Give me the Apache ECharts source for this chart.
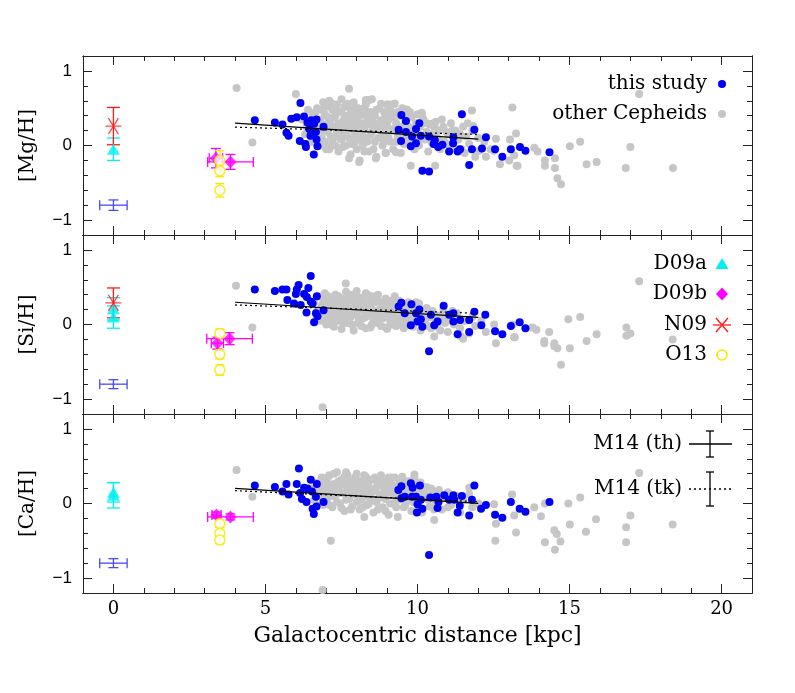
<!DOCTYPE html>
<html>
<head>
<meta charset="utf-8">
<script src="https://cdn.jsdelivr.net/npm/echarts@6.0.0/dist/echarts.min.js"></script>
<style>
  html, body { margin: 0; padding: 0; background: #fff; }
  #chart { width: 795px; height: 693px; }
</style>
</head>
<body>
<div id="chart"></div>
<script>
// tick values
var xMajor = [0, 5, 10, 15, 20]
var xMinor = [1, 2, 3, 4, 6, 7, 8, 9, 11, 12, 13, 14, 16, 17, 18, 19]
var yMajor = [-1, 0, 1]
var yMinor = [-0.8, -0.6, -0.4, -0.2, 0.2, 0.4, 0.6, 0.8]
var panelNames = ['[Mg/H]', '[Si/H]', '[Ca/H]']

// this study, [Mg/H]
var mgThis = [
  [4.65, 0.34], [5.31, 0.31], [5.56, 0.28], [5.69, 0.17], [5.76, 0.13], [5.85, 0.36], [6.03, 0.38],
  [6.15, 0.57], [6.27, 0.39], [6.38, 0.31], [6.51, 0.34], [6.68, 0.35], [6.44, 0.22], [6.66, 0.18],
  [6.13, 0.06], [6.31, 0.02], [6.48, 0.13], [6.68, 0.08], [6.71, -0.01], [6.59, -0.12], [6.33, -0.02],
  [6.91, 0.25], [6.53, 0.18], [6.6, 0.29],
  [9.47, 0.41], [9.62, 0.33], [10.06, 0.3], [9.95, 0.22], [9.38, 0.21], [9.62, 0.18], [9.82, 0.12],
  [10.11, 0.13], [9.46, 0.06], [9.78, -0.01], [9.95, 0.03], [10.38, 0.12], [10.57, 0.07], [10.68, -0.02],
  [10.82, 0.01], [11.04, -0.08], [11.18, 0.11], [11.17, 0.03], [11.4, -0.05], [11.32, -0.08], [11.46, 0.42],
  [11.87, 0.21], [12.25, 0.11], [11.79, -0.05], [12.12, -0.04], [12.55, -0.05], [12.79, -0.15], [13.07, -0.05],
  [13.37, -0.02], [13.55, -0.07], [11.7, -0.26], [10.16, -0.34], [10.38, -0.35], [10.53, 0.02], [14.34, -0.09]
]
// other Cepheids, [Mg/H]
var mgOther = [
  [6.2, 0.35], [6.3, 0.15], [6.4, 0.48], [6.5, 0.05], [6.6, 0.28], [6.55, 0.41], [6.35, 0.25],
  [6.7, 0.5], [6.75, 0.22], [6.8, 0.35], [6.85, 0.1], [6.9, 0.58], [6.95, 0.42], [7.0, 0.28], [6.8, 0.0], [7.0, -0.05],
  [7.05, 0.18], [7.1, 0.6], [7.15, 0.35], [7.2, 0.48], [7.2, 0.05], [7.25, 0.25], [7.3, 0.12], [7.3, 0.4],
  [7.35, 0.55], [7.4, 0.3], [7.4, -0.08], [7.45, 0.2], [7.5, 0.45], [7.5, 0.08], [7.5, 0.62],
  [7.55, 0.33], [7.6, 0.18], [7.6, 0.52], [7.65, 0.0], [7.7, 0.4], [7.7, 0.26], [7.75, 0.1], [7.8, 0.48],
  [7.8, -0.12], [7.85, 0.32], [7.9, 0.2], [7.9, 0.58], [7.95, 0.05], [8.0, 0.38], [8.0, 0.26],
  [8.05, 0.5], [8.1, 0.15], [8.1, -0.2], [8.15, 0.3], [8.2, 0.42], [8.2, 0.0], [8.25, 0.22], [8.3, 0.55],
  [8.3, 0.1], [8.35, 0.35], [8.4, 0.28], [8.4, -0.08], [8.45, 0.45], [8.5, 0.18], [8.5, 0.62],
  [8.55, 0.3], [8.6, 0.05], [8.6, 0.4], [8.65, -0.15], [8.7, 0.22], [8.75, 0.5], [8.8, 0.12], [8.8, 0.34],
  [8.85, 0.0], [8.9, 0.45], [8.95, 0.25], [9.0, 0.15], [9.0, 0.55], [8.95, -0.1],
  [9.05, 0.35], [9.1, 0.05], [9.15, 0.45], [9.2, 0.22], [9.2, -0.05], [9.25, 0.56], [9.3, 0.3], [9.35, 0.12],
  [9.4, 0.4], [9.45, -0.1], [9.5, 0.25], [9.5, 0.5],
  [9.55, 0.02], [9.6, 0.32], [9.65, 0.48], [9.7, 0.15], [9.75, 0.08], [9.8, 0.38], [9.85, 0.22], [9.9, -0.05],
  [9.95, 0.3], [10.0, 0.12], [10.0, 0.42],
  [10.05, 0.0], [10.1, 0.25], [10.2, 0.35], [10.25, 0.08], [10.3, 0.18], [10.35, -0.08], [10.4, 0.28],
  [10.45, 0.05], [10.5, 0.15], [10.6, 0.32], [10.65, 0.1], [10.7, 0.2], [10.75, -0.05], [10.85, 0.25],
  [10.9, 0.05], [11.0, 0.15], [11.1, 0.3], [11.2, -0.02], [11.25, 0.2], [11.35, 0.08], [11.5, 0.25],
  [11.55, -0.1], [11.6, 0.12], [11.7, 0.02], [11.8, 0.2], [11.9, -0.15], [12.0, 0.1],
  [6.6, 0.12], [6.65, 0.45], [6.7, 0.02], [6.75, 0.32], [6.85, 0.48], [6.9, 0.2], [6.95, 0.05], [7.0, 0.52],
  [7.05, 0.38], [7.1, 0.25], [7.1, -0.02], [7.15, 0.12], [7.2, 0.56], [7.25, 0.38], [7.3, 0.0], [7.35, 0.2],
  [7.4, 0.46], [7.45, 0.1], [7.5, 0.28], [7.55, -0.02], [7.6, 0.4], [7.65, 0.14], [7.7, 0.56], [7.75, 0.34],
  [7.8, 0.22], [7.85, 0.02], [7.9, 0.42], [7.95, 0.15], [8.0, 0.5], [8.0, -0.05], [8.05, 0.3], [8.1, 0.4],
  [8.15, 0.08], [8.2, 0.2], [8.25, 0.5], [8.3, 0.3], [8.35, 0.05], [8.4, 0.42], [8.45, 0.14], [8.5, 0.35],
  [8.55, -0.05], [8.6, 0.22], [8.65, 0.48], [8.7, 0.1], [8.75, 0.3], [8.8, 0.56], [8.85, 0.2], [8.9, 0.05],
  [8.95, 0.4], [9.0, 0.3], [9.05, 0.1], [9.1, 0.5], [9.15, 0.2], [9.2, 0.38], [9.3, 0.05], [9.35, 0.45],
  [9.4, 0.18], [9.5, 0.05], [9.55, 0.38], [9.6, 0.12], [9.7, 0.25], [9.75, 0.45], [9.8, 0.02], [9.9, 0.15],
  [10.0, 0.3], [10.1, 0.1], [10.15, 0.4], [10.3, 0.3], [10.4, 0.15], [10.5, 0.02], [10.55, 0.25], [10.7, 0.08],
  [10.8, 0.35], [10.95, 0.18], [11.05, 0.0], [11.15, 0.2], [11.4, 0.15], [11.45, -0.05], [11.65, 0.3],
  [12.2, 0.05], [12.4, -0.05],
  [4.05, 0.77], [4.57, 0.04], [6.0, 0.69], [7.75, 0.76], [8.3, 0.61], [8.41, 0.61], [9.05, 0.55], [9.23, 0.56],
  [10.14, 0.44], [10.49, 0.29], [11.79, 0.47], [13.12, 0.51], [9.78, -0.27], [10.58, -0.27], [13.24, 0.16],
  [12.58, 0.09], [13.02, -0.2], [13.26, -0.27], [12.25, -0.15], [12.03, -0.07], [7.75, -0.17], [8.08, -0.22],
  [7.1, -0.05], [8.25, -0.08], [8.63, -0.17], [8.96, -0.1], [9.29, -0.09], [17.29, 0.69], [15.01, -0.01],
  [15.35, 0.05], [15.56, -0.25], [15.89, -0.22], [16.85, -0.3], [17.0, -0.02], [18.4, -0.3], [14.72, -0.52],
  [14.6, -0.44], [14.52, -0.3], [14.52, -0.17], [14.19, -0.2], [14.19, -0.27], [13.95, -0.08], [13.84, -0.03],
  [13.29, -0.27], [13.18, -0.13], [13.04, 0.08], [12.71, -0.25], [12.52, -0.07], [11.83, 0.26], [9.65, 0.48]
]

// this study, [Si/H]
var siThis = [
  [4.65, 0.47], [5.31, 0.45], [5.56, 0.47], [5.69, 0.47], [6.03, 0.47], [6.09, 0.53], [6.49, 0.65],
  [6.41, 0.49], [6.0, 0.41], [6.27, 0.41], [6.36, 0.37], [6.69, 0.38], [5.72, 0.33], [5.94, 0.28],
  [6.16, 0.26], [6.55, 0.28], [6.91, 0.19], [6.35, 0.16], [6.66, 0.15], [6.71, 0.11], [6.6, 0.03], [6.49, 0.31],
  [9.47, 0.29], [9.38, 0.24], [9.8, 0.27], [10.06, 0.2], [9.58, 0.15], [9.95, 0.15], [10.11, 0.07],
  [10.0, 0.04], [9.78, -0.01], [10.16, -0.03], [10.44, 0.13], [10.66, 0.04], [10.55, -0.01], [10.86, 0.25],
  [11.04, 0.13], [11.18, 0.15], [11.18, 0.04], [11.4, 0.06], [11.87, 0.17], [11.7, 0.06], [12.23, 0.13],
  [12.1, -0.01], [11.32, -0.13], [11.7, -0.1], [12.55, -0.09], [12.79, -0.13], [13.07, -0.02], [13.36, 0.03],
  [13.55, -0.05], [10.38, -0.36]
]
// other Cepheids, [Si/H]
var siOther = [
  [6.6, 0.3], [6.7, 0.18], [6.75, 0.38], [6.8, 0.05], [6.85, 0.25], [6.9, 0.12], [6.95, 0.42], [7.0, 0.3],
  [7.0, 0.0], [7.05, 0.2], [7.1, 0.08], [7.15, 0.35], [7.2, 0.22], [7.25, -0.03], [7.3, 0.4], [7.3, 0.14],
  [7.35, 0.28], [7.4, 0.05], [7.45, 0.2], [7.5, 0.35], [7.5, -0.06], [7.55, 0.12], [7.6, 0.26], [7.65, 0.44],
  [7.7, 0.02], [7.7, 0.18], [7.75, 0.32], [7.8, 0.1], [7.85, 0.4], [7.9, 0.22], [7.9, -0.08], [7.95, 0.3],
  [8.0, 0.14], [8.0, 0.45], [8.05, 0.02], [8.1, 0.26], [8.15, 0.36], [8.2, 0.08], [8.25, 0.18], [8.3, 0.42],
  [8.3, -0.05], [8.35, 0.3], [8.4, 0.12], [8.45, 0.22], [8.5, 0.38], [8.5, 0.0], [8.55, 0.15], [8.6, 0.3],
  [8.65, 0.06], [8.7, 0.4], [8.75, 0.2], [8.8, -0.02], [8.85, 0.28], [8.9, 0.1], [8.95, 0.35], [9.0, 0.18],
  [9.0, -0.06], [9.05, 0.25], [9.1, 0.05], [9.15, 0.32], [9.2, 0.14], [9.25, 0.38], [9.3, -0.02], [9.35, 0.22],
  [9.4, 0.08], [9.45, 0.3], [9.5, 0.15], [9.55, -0.05], [9.6, 0.2], [9.65, 0.05], [9.7, 0.3], [9.8, 0.12],
  [9.85, -0.03], [9.9, 0.22], [10.0, 0.08], [10.05, 0.28], [10.1, -0.08], [10.2, 0.15], [10.25, 0.02],
  [10.3, 0.22], [10.4, 0.1], [10.45, -0.05], [10.5, 0.18], [10.6, 0.05], [10.7, 0.12], [10.75, -0.08],
  [10.85, 0.2], [10.9, 0.02], [11.0, -0.1], [11.05, 0.1], [11.2, 0.0], [11.3, 0.15], [11.4, -0.05],
  [11.6, 0.05], [11.7, -0.12], [11.8, 0.1], [11.9, -0.02], [12.1, 0.05],
  [6.8, 0.2], [6.9, 0.32], [6.95, 0.05], [7.0, 0.15], [7.05, 0.38], [7.1, 0.25], [7.15, 0.0], [7.2, 0.12],
  [7.25, 0.32], [7.3, 0.05], [7.35, 0.18], [7.4, 0.38], [7.45, 0.1], [7.5, 0.25], [7.55, 0.02], [7.6, 0.16],
  [7.65, 0.34], [7.7, 0.1], [7.75, 0.22], [7.8, 0.38], [7.85, 0.0], [7.9, 0.14], [7.95, 0.4], [8.0, 0.25],
  [8.05, 0.1], [8.1, 0.34], [8.15, -0.02], [8.2, 0.2], [8.25, 0.3], [8.3, 0.1], [8.35, 0.4], [8.4, 0.22],
  [8.45, -0.04], [8.5, 0.28], [8.55, 0.08], [8.6, 0.18], [8.65, 0.36], [8.7, 0.02], [8.75, 0.14], [8.8, 0.3],
  [8.85, 0.08], [8.9, 0.22], [8.95, -0.04], [9.0, 0.32], [9.05, 0.12], [9.1, 0.22], [9.15, 0.0], [9.2, 0.28],
  [9.25, 0.08], [9.3, 0.18], [9.4, 0.32], [9.45, 0.0], [9.5, 0.24], [9.6, 0.1], [9.65, 0.28], [9.75, 0.02],
  [9.8, 0.2], [9.9, 0.08], [9.95, 0.3], [10.05, 0.15], [10.15, 0.05], [10.3, 0.1], [10.35, -0.02], [10.55, 0.1],
  [10.65, -0.03], [10.8, 0.1], [11.0, 0.05], [11.15, 0.18], [11.5, 0.05],
  [4.03, 0.52], [4.57, -0.04], [7.64, 0.55], [10.55, -0.16], [11.5, -0.19], [12.58, -0.25], [12.52, 0.0],
  [13.18, -0.17], [13.13, 0.0], [12.25, -0.1], [17.29, 0.58], [14.96, 0.07], [15.35, 0.1], [16.87, -0.04],
  [17.0, -0.12], [16.87, -0.15], [15.89, -0.13], [15.56, -0.22], [15.01, -0.32], [14.72, -0.54], [14.6, -0.32],
  [14.5, -0.25], [14.5, -0.29], [14.17, -0.25], [14.17, -0.22], [14.33, -0.1], [13.91, -0.07], [13.78, -0.04],
  [13.2, -0.17], [18.39, -0.2], [11.43, -0.16], [6.88, -1.11]
]

// this study, [Ca/H]
var caThis = [
  [4.65, 0.24], [5.31, 0.22], [5.56, 0.16], [5.69, 0.26], [5.76, 0.12], [6.03, 0.26], [6.1, 0.47],
  [6.49, 0.32], [6.69, 0.26], [6.27, 0.21], [6.38, 0.2], [6.53, 0.16], [6.14, 0.14], [6.2, 0.06],
  [6.66, 0.09], [6.91, 0.02], [6.35, 0.02], [6.68, -0.04], [6.55, -0.07], [6.59, -0.14],
  [9.37, 0.18], [9.47, 0.23], [9.78, 0.27], [9.84, 0.21], [10.08, 0.24], [9.47, 0.07], [9.58, 0.09],
  [9.82, 0.09], [9.95, 0.09], [10.11, 0.05], [10.0, -0.01], [10.16, -0.07], [9.98, -0.12], [10.42, 0.08],
  [10.62, 0.09], [10.69, 0.02], [10.66, -0.06], [10.88, 0.11], [11.04, 0.05], [11.18, 0.11], [11.21, 0.05],
  [11.46, 0.1], [11.39, -0.03], [11.32, -0.12], [11.7, -0.16], [11.79, 0.05], [11.87, 0.24], [12.09, -0.07],
  [12.25, -0.02], [12.55, -0.15], [12.79, -0.19], [13.07, 0.02], [13.36, -0.07], [13.55, -0.11],
  [10.38, -0.69], [14.34, 0.02]
]
// other Cepheids, [Ca/H]
var caOther = [
  [6.5, 0.2], [6.6, 0.05], [6.7, 0.28], [6.8, 0.12], [6.85, 0.35], [6.9, -0.02], [6.95, 0.2], [7.0, 0.3],
  [7.05, 0.08], [7.1, 0.38], [7.15, 0.18], [7.2, -0.05], [7.25, 0.26], [7.3, 0.1], [7.35, 0.42], [7.4, 0.2],
  [7.45, 0.0], [7.5, 0.32], [7.55, 0.14], [7.6, -0.1], [7.65, 0.25], [7.7, 0.38], [7.75, 0.06], [7.8, 0.2],
  [7.85, -0.04], [7.9, 0.3], [7.95, 0.12], [8.0, 0.4], [8.05, 0.22], [8.1, -0.08], [8.15, 0.05], [8.2, 0.3],
  [8.25, 0.15], [8.3, 0.36], [8.35, -0.02], [8.4, 0.22], [8.45, 0.08], [8.5, 0.32], [8.55, -0.12], [8.6, 0.18],
  [8.65, 0.02], [8.7, 0.28], [8.75, 0.12], [8.8, 0.38], [8.85, -0.05], [8.9, 0.2], [8.95, 0.06], [9.0, 0.3],
  [9.05, -0.15], [9.1, 0.15], [9.15, 0.35], [9.2, 0.0], [9.25, 0.22], [9.3, 0.08], [9.35, -0.18], [9.4, 0.28],
  [9.45, 0.12], [9.5, 0.36], [9.55, -0.05], [9.6, 0.18], [9.7, 0.05], [9.75, 0.3], [9.8, -0.1], [9.85, 0.15],
  [9.95, 0.25], [10.0, 0.0], [10.1, 0.18], [10.15, -0.12], [10.2, 0.08], [10.3, 0.22], [10.4, -0.04],
  [10.5, 0.12], [10.6, 0.02], [10.7, 0.18], [10.8, -0.08], [10.9, 0.08], [11.0, 0.15], [11.1, -0.02],
  [11.3, 0.1], [11.4, -0.12], [11.5, 0.05], [11.7, 0.12], [11.8, -0.05], [12.0, 0.0],
  [6.6, 0.15], [6.7, -0.02], [6.75, 0.2], [6.85, 0.08], [6.9, 0.28], [7.0, 0.15], [7.05, 0.35], [7.1, -0.02],
  [7.15, 0.25], [7.2, 0.1], [7.25, 0.4], [7.3, 0.2], [7.35, 0.02], [7.4, 0.3], [7.45, 0.14], [7.5, -0.06],
  [7.55, 0.25], [7.6, 0.36], [7.65, 0.05], [7.7, 0.18], [7.75, 0.3], [7.8, -0.08], [7.85, 0.12], [7.9, 0.22],
  [7.95, 0.35], [8.0, 0.02], [8.05, 0.14], [8.1, 0.3], [8.15, 0.2], [8.2, -0.05], [8.25, 0.38], [8.3, 0.1],
  [8.35, 0.25], [8.4, 0.0], [8.45, 0.32], [8.5, 0.15], [8.55, 0.05], [8.6, 0.35], [8.65, 0.22], [8.7, -0.08],
  [8.75, 0.25], [8.8, 0.08], [8.85, 0.3], [8.9, 0.12], [8.95, -0.1], [9.0, 0.2], [9.05, 0.35], [9.1, 0.0],
  [9.15, 0.25], [9.2, 0.12], [9.25, 0.35], [9.3, -0.05], [9.35, 0.18], [9.4, 0.05], [9.45, 0.3], [9.5, 0.1],
  [9.55, 0.22], [9.6, -0.02], [9.65, 0.3], [9.7, 0.15], [9.8, 0.22], [9.85, 0.02], [9.9, 0.35], [10.0, 0.12],
  [10.05, -0.05], [10.1, 0.28], [10.25, 0.12], [10.35, 0.05], [10.45, 0.2], [10.55, -0.08], [10.65, 0.1],
  [10.75, 0.05], [11.0, -0.05], [11.2, 0.08],
  [4.05, 0.45], [4.57, 0.09], [7.15, -0.5], [7.65, 0.42], [9.9, 0.39], [8.25, -0.18], [10.55, -0.22],
  [12.58, -0.27], [12.56, -0.5], [13.24, -0.39], [13.18, -0.16], [13.11, 0.12], [12.52, -0.01], [17.29, 0.41],
  [15.35, 0.08], [14.96, 0.0], [17.0, -0.16], [16.86, -0.32], [16.86, -0.52], [15.87, -0.21], [15.54, -0.38],
  [15.01, -0.28], [14.7, -0.51], [14.58, -0.41], [14.5, -0.36], [14.52, -0.62], [14.19, -0.52], [14.19, 0.0],
  [13.84, -0.05], [14.06, -0.17], [18.39, -0.28], [6.88, -1.16], [11.7, 0.21]
]

// literature values: [R, value, xerr, yerr]
var d09aMg = [[0, -0.05, 0, 0.15]]
var d09aSi = [[0, 0.21, 0, 0.15], [0, 0.1, 0, 0.15]]
var d09aCa = [[0, 0.15, 0, 0.13], [0, 0.11, 0, 0.17]]
var d09bMg = [[3.37, -0.17, 0.22, 0.13], [3.85, -0.22, 0.75, 0.1]]
var d09bSi = [[3.42, -0.25, 0.2, 0.08], [3.82, -0.19, 0.75, 0.08]]
var d09bCa = [[3.39, -0.155, 0.15, 0.04], [3.85, -0.18, 0.75, 0.04]]
var n09Mg = [[0, 0.26, 0, 0.25]]
var n09Si = [[0, 0.29, 0, 0.2]]
var o13Mg = [[3.5, -0.2, 0, 0.13], [3.5, -0.34, 0, 0.08], [3.5, -0.6, 0, 0.09]]
var o13Si = [[3.5, -0.12, 0, 0.06], [3.5, -0.4, 0, 0.06], [3.5, -0.61, 0, 0.07]]
var o13Ca = [[3.5, -0.27, 0, 0.05], [3.5, -0.4, 0, 0.04], [3.5, -0.49, 0, 0.05]]
// typical error of this study
var errMg = [[0, -0.8, 0.45, 0.07]]
var errSi = [[0, -0.8, 0.45, 0.06]]
var errCa = [[0, -0.8, 0.45, 0.06]]

// M14 gradients (thin / thick disc)
var m14ThMg = [[4, 0.30], [12, 0.085]]
var m14TkMg = [[4, 0.246], [12, 0.148]]
var m14ThSi = [[4, 0.298], [12, 0.096]]
var m14TkSi = [[4, 0.262], [12, 0.15]]
var m14ThCa = [[4, 0.204], [12, 0.003]]
var m14TkCa = [[4, 0.172], [12, 0.024]]

var BLUE = '#0000f2'
var GRAY = '#c6c6c6'
var CYAN = '#00f0f0'
var MAGENTA = '#ff00ff'
var RED = '#ff1a1a'
var YELLOW = '#f7e800'
var ERRBLUE = '#4a4af5'
var AXIS = '#222'
var STAR = 'path://M0,8L16,8M3,1L13,15M3,15L13,1'

var chart = echarts.init(document.getElementById('chart'))

var gridTops = [56, 235, 414]
var grids = [], xAxes = [], yAxes = []

function xAx(i, pos, ticks, len, showLabel) {
  var ax = {
    type: 'value', gridIndex: i, position: pos, min: -1, max: 21,
    axisLine: { show: true, onZero: false, lineStyle: { color: AXIS, width: 1 } },
    axisTick: { show: true, inside: true, length: len, customValues: ticks, lineStyle: { color: AXIS, width: 1 } },
    axisLabel: { show: showLabel, customValues: xMajor, margin: 7, color: '#000', fontFamily: 'DejaVu Serif', fontSize: 18 },
    splitLine: { show: false }
  }
  if (showLabel) {
    ax.name = 'Galactocentric distance [kpc]'
    ax.nameLocation = 'middle'
    ax.nameGap = 32
    ax.nameTextStyle = { fontFamily: 'DejaVu Serif', fontSize: 22, color: '#000' }
  }
  return ax
}

function yAx(i, pos, ticks, len, name) {
  var ax = {
    type: 'value', gridIndex: i, position: pos, min: -1.2, max: 1.2,
    axisLine: { show: true, onZero: false, lineStyle: { color: AXIS, width: 1 } },
    axisTick: { show: true, inside: true, length: len, customValues: ticks, lineStyle: { color: AXIS, width: 1 } },
    axisLabel: {
      show: !!name, customValues: yMajor, margin: 11, color: '#000', fontFamily: 'Liberation Sans', fontSize: 17,
      formatter: function (v) { return v < 0 ? '\u2212' + Math.abs(v) : String(v) }
    },
    splitLine: { show: false }
  }
  if (name) {
    ax.name = name
    ax.nameLocation = 'middle'
    ax.nameRotate = 90
    ax.nameGap = 45
    ax.nameTextStyle = { fontFamily: 'DejaVu Serif', fontSize: 20, color: '#000' }
  }
  return ax
}

for (var i = 0; i < 3; i++) {
  grids.push({ left: 83, right: 43, top: gridTops[i], height: 179 })
  xAxes.push(xAx(i, 'bottom', xMajor, 9, i === 2))
  xAxes.push(xAx(i, 'bottom', xMinor, 5, false))
  xAxes.push(xAx(i, 'top', xMajor, 9, false))
  xAxes.push(xAx(i, 'top', xMinor, 5, false))
  yAxes.push(yAx(i, 'left', yMajor, 9, panelNames[i]))
  yAxes.push(yAx(i, 'left', yMinor, 5, null))
  yAxes.push(yAx(i, 'right', yMajor, 9, null))
  yAxes.push(yAx(i, 'right', yMinor, 5, null))
}

function errBars(data, color, cap, p) {
  return {
    type: 'custom', xAxisIndex: p * 4, yAxisIndex: p * 4, data: data, z: 3, silent: true,
    renderItem: function (params, api) {
      var x = api.value(0), y = api.value(1), ex = api.value(2), ey = api.value(3)
      var st = { stroke: color, lineWidth: 1.3 }
      var kids = [], h = cap / 2
      if (ey > 0) {
        var t = api.coord([x, y + ey]), b = api.coord([x, y - ey])
        kids.push({ type: 'line', shape: { x1: t[0], y1: t[1], x2: b[0], y2: b[1] }, style: st })
        kids.push({ type: 'line', shape: { x1: t[0] - h, y1: t[1], x2: t[0] + h, y2: t[1] }, style: st })
        kids.push({ type: 'line', shape: { x1: b[0] - h, y1: b[1], x2: b[0] + h, y2: b[1] }, style: st })
      }
      if (ex > 0) {
        var l = api.coord([x - ex, y]), r = api.coord([x + ex, y])
        kids.push({ type: 'line', shape: { x1: l[0], y1: l[1], x2: r[0], y2: r[1] }, style: st })
        kids.push({ type: 'line', shape: { x1: l[0], y1: l[1] - h, x2: l[0], y2: l[1] + h }, style: st })
        kids.push({ type: 'line', shape: { x1: r[0], y1: r[1] - h, x2: r[0], y2: r[1] + h }, style: st })
      }
      return { type: 'group', children: kids }
    }
  }
}

function dots(data, color, size, p, z) {
  return {
    type: 'scatter', xAxisIndex: p * 4, yAxisIndex: p * 4, data: data, symbolSize: size, z: z,
    itemStyle: { color: color, opacity: 1 }, silent: true
  }
}

function marks(data, symbol, size, p, style) {
  return {
    type: 'scatter', xAxisIndex: p * 4, yAxisIndex: p * 4, data: data.map(function (d) { return [d[0], d[1]] }),
    symbol: symbol, symbolSize: size, z: 5, itemStyle: style, silent: true
  }
}

function gradient(data, dashed, p) {
  return {
    type: 'line', xAxisIndex: p * 4, yAxisIndex: p * 4, data: data, showSymbol: false, z: 6, silent: true,
    lineStyle: { color: '#000', width: 1.2, type: dashed ? [2, 3] : 'solid' }
  }
}

var series = [
  dots(mgOther, GRAY, 8, 0, 1), dots(mgThis, BLUE, 8, 0, 2),
  dots(siOther, GRAY, 8, 1, 1), dots(siThis, BLUE, 8, 1, 2),
  dots(caOther, GRAY, 8, 2, 1), dots(caThis, BLUE, 8, 2, 2),

  errBars(errMg, ERRBLUE, 10, 0), errBars(errSi, ERRBLUE, 10, 1), errBars(errCa, ERRBLUE, 10, 2),

  errBars(d09aMg, CYAN, 13, 0), errBars(d09aSi, CYAN, 13, 1), errBars(d09aCa, CYAN, 13, 2),
  marks(d09aMg, 'triangle', [13, 11], 0, { color: CYAN }),
  marks(d09aSi, 'triangle', [13, 11], 1, { color: CYAN }),
  marks(d09aCa, 'triangle', [13, 11], 2, { color: CYAN }),

  errBars(d09bMg, MAGENTA, 10, 0), errBars(d09bSi, MAGENTA, 10, 1), errBars(d09bCa, MAGENTA, 10, 2),
  marks(d09bMg, 'diamond', [12, 13], 0, { color: MAGENTA }),
  marks(d09bSi, 'diamond', [12, 13], 1, { color: MAGENTA }),
  marks(d09bCa, 'diamond', [12, 13], 2, { color: MAGENTA }),

  errBars(n09Mg, RED, 13, 0), errBars(n09Si, RED, 13, 1),
  marks(n09Mg, STAR, 16, 0, { color: 'rgba(0,0,0,0)', borderColor: RED, borderWidth: 1.3 }),
  marks(n09Si, STAR, 16, 1, { color: 'rgba(0,0,0,0)', borderColor: RED, borderWidth: 1.3 }),

  errBars(o13Mg, YELLOW, 9, 0), errBars(o13Si, YELLOW, 9, 1), errBars(o13Ca, YELLOW, 9, 2),
  marks(o13Mg, 'circle', 10, 0, { color: '#fff', borderColor: YELLOW, borderWidth: 1.6 }),
  marks(o13Si, 'circle', 10, 1, { color: '#fff', borderColor: YELLOW, borderWidth: 1.6 }),
  marks(o13Ca, 'circle', 10, 2, { color: '#fff', borderColor: YELLOW, borderWidth: 1.6 }),

  gradient(m14ThMg, false, 0), gradient(m14TkMg, true, 0),
  gradient(m14ThSi, false, 1), gradient(m14TkSi, true, 1),
  gradient(m14ThCa, false, 2), gradient(m14TkCa, true, 2)
]

// legend entries: text right-aligned, symbol to the right
var FONT = '20px "DejaVu Serif"'
function label(txt, y, x) {
  return { type: 'text', x: x || 707, y: y, z: 10,
    style: { text: txt, font: FONT, fill: '#000', align: 'right', verticalAlign: 'middle', textAlign: 'right', textVerticalAlign: 'middle' } }
}
function seg(x1, y1, x2, y2, color, dash) {
  return { type: 'line', z: 10, shape: { x1: x1, y1: y1, x2: x2, y2: y2 },
    style: { stroke: color, lineWidth: 1.3, lineDash: dash || null } }
}
var LX = 722
var graphic = [
  label('this study', 84), { type: 'circle', z: 10, shape: { cx: LX, cy: 84, r: 4 }, style: { fill: BLUE } },
  label('other Cepheids', 114), { type: 'circle', z: 10, shape: { cx: LX, cy: 114, r: 4 }, style: { fill: GRAY } },

  label('D09a', 264), { type: 'polygon', z: 10, shape: { points: [[LX - 6.5, 269], [LX + 6.5, 269], [LX, 258]] }, style: { fill: CYAN } },
  label('D09b', 294), { type: 'polygon', z: 10, shape: { points: [[LX, 287.5], [LX + 6, 294], [LX, 300.5], [LX - 6, 294]] }, style: { fill: MAGENTA } },
  label('N09', 325), seg(LX - 9, 325, LX + 9, 325, RED), seg(LX - 6, 318, LX + 6, 332, RED), seg(LX - 6, 332, LX + 6, 318, RED),
  label('O13', 355), { type: 'circle', z: 10, shape: { cx: LX, cy: 355, r: 5 }, style: { fill: '#fff', stroke: YELLOW, lineWidth: 1.6 } },

  label('M14 (th)', 444, 682), seg(689, 444, 732, 444, '#000'),
  seg(710, 431, 710, 457, '#000'), seg(706, 431, 714, 431, '#000'), seg(706, 457, 714, 457, '#000'),
  label('M14 (tk)', 489, 682), seg(689, 489, 732, 489, '#000', [2, 3]),
  seg(710, 472, 710, 506, '#000'), seg(706, 472, 714, 472, '#000'), seg(706, 506, 714, 506, '#000')
]

chart.setOption({
  animation: false,
  backgroundColor: '#fff',
  grid: grids,
  xAxis: xAxes,
  yAxis: yAxes,
  series: series,
  graphic: graphic
})
</script>
</body>
</html>
